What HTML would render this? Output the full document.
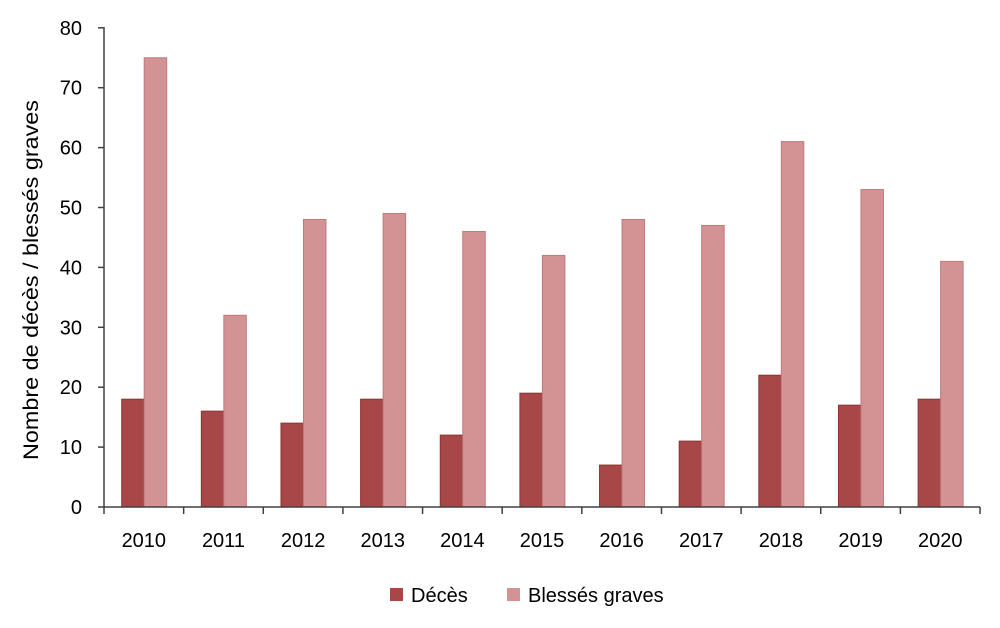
<!DOCTYPE html>
<html><head><meta charset="utf-8"><style>body{margin:0;background:#fff}svg{display:block}text{font-family:"Liberation Sans",sans-serif;fill:#000}</style></head><body>
<svg width="1000" height="628" viewBox="0 0 1000 628" xmlns="http://www.w3.org/2000/svg">
<g id="bars"></g>
<g stroke="#404040" stroke-width="1.5">
<line x1="104" y1="27" x2="104" y2="507"/>
<line x1="104" y1="507" x2="980" y2="507"/>
</g>
<g id="ticks" stroke="#404040" stroke-width="1.5"></g>
<g id="labels" font-size="20"></g>
<text transform="translate(38,280) rotate(-90)" text-anchor="middle" font-size="21" textLength="360" lengthAdjust="spacingAndGlyphs">Nombre de décès / blessés graves</text>
<rect x="390" y="588" width="13" height="13" fill="#a84747"/>
<text x="411" y="602" font-size="20">Décès</text>
<rect x="507" y="588" width="13" height="13" fill="#d39294"/>
<text x="528" y="602" font-size="20">Blessés graves</text>
<script>
var d=[18,16,14,18,12,19,7,11,22,17,18],b=[75,32,48,49,46,42,48,47,61,53,41];
var ns="http://www.w3.org/2000/svg",g=document.getElementById('bars'),t=document.getElementById('ticks'),l=document.getElementById('labels');
function el(p,n,a,tx){var e=document.createElementNS(ns,n);for(var k in a)e.setAttribute(k,a[k]);if(tx!=null)e.textContent=tx;p.appendChild(e);}
var w=79.64,s=5.99;
for(var i=0;i<11;i++){var x0=104+i*w;
el(g,'rect',{x:x0+17.7,y:507-d[i]*s,width:22.5,height:d[i]*s,fill:'#a84747',stroke:'#8e3232','stroke-width':1});
el(g,'rect',{x:x0+40.2,y:507-b[i]*s,width:22.5,height:b[i]*s,fill:'#d39294',stroke:'#c07a7c','stroke-width':1});
el(l,'text',{x:x0+w/2,y:547,'text-anchor':'middle'},2010+i);}
for(var i=0;i<=11;i++){var x=104+i*w;el(t,'line',{x1:x,y1:507,x2:x,y2:514});}
for(var v=0;v<=80;v+=10){var y=507-v*s;el(t,'line',{x1:98,y1:y,x2:104,y2:y});el(l,'text',{x:82,y:y+7,'text-anchor':'end'},v);}
</script>
</svg>
</body></html>
